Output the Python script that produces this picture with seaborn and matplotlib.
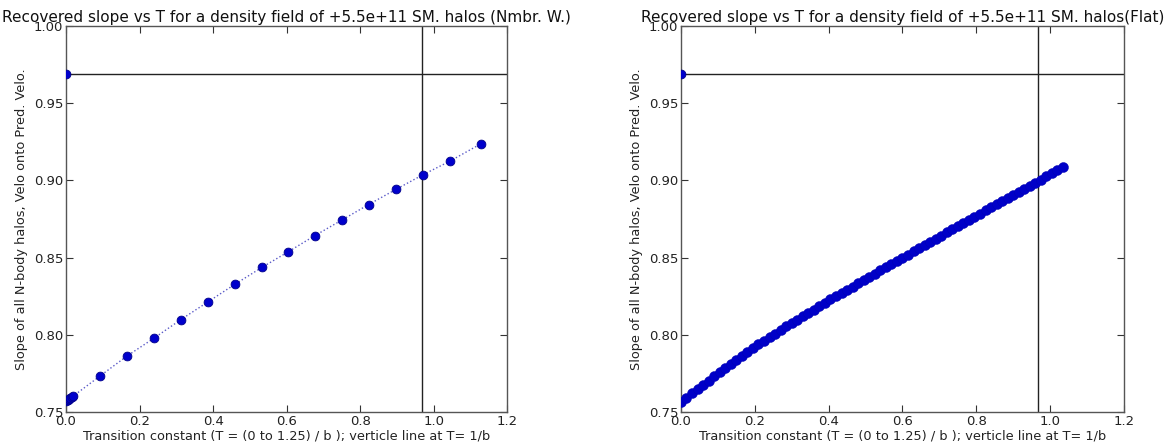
import numpy as np
import pandas as pd
import seaborn as sns
import matplotlib
matplotlib.use("Agg")
import matplotlib.pyplot as plt

# Dados
titulo_esq = "Recovered slope vs T for a density field of +5.5e+11 SM. halos (Nmbr. W.)"
titulo_dir = "Recovered slope vs T for a density field of +5.5e+11 SM. halos(Flat)"
rotulo_x = "Transition constant (T = (0 to 1.25) / b ); verticle line at T= 1/b"
rotulo_y = "Slope of all N-body halos, Velo onto Pred. Velo."

# painel esquerdo (Nmbr. W.)
t_nw = [0.0, 0.004, 0.008, 0.012, 0.016, 0.020, 0.0935, 0.166, 0.2397, 0.312,
        0.387, 0.459, 0.533, 0.605, 0.677, 0.752, 0.823, 0.898, 0.970, 1.044, 1.128]
slope_nw = [0.7570, 0.7578, 0.7585, 0.7592, 0.7598, 0.7604, 0.7735, 0.7863, 0.7979, 0.8098,
            0.8215, 0.8327, 0.8437, 0.8539, 0.8643, 0.8746, 0.8844, 0.8943, 0.9036, 0.9125, 0.9237]

# painel direito (Flat)
t_flat = [0.000, 0.015, 0.030, 0.045, 0.060, 0.075, 0.090, 0.105, 0.120, 0.135,
          0.150, 0.165, 0.180, 0.195, 0.210, 0.225, 0.240, 0.255, 0.270, 0.285,
          0.300, 0.315, 0.330, 0.345, 0.360, 0.375, 0.390, 0.405, 0.420, 0.435,
          0.450, 0.465, 0.480, 0.495, 0.510, 0.525, 0.540, 0.555, 0.570, 0.585,
          0.600, 0.615, 0.630, 0.645, 0.660, 0.675, 0.690, 0.705, 0.720, 0.735,
          0.750, 0.765, 0.780, 0.795, 0.810, 0.825, 0.840, 0.855, 0.870, 0.885,
          0.900, 0.915, 0.930, 0.945, 0.960, 0.975, 0.990, 1.005, 1.020, 1.035]
slope_flat = [0.7565, 0.7592, 0.7620, 0.7647, 0.7675, 0.7702, 0.7730, 0.7757, 0.7783, 0.7809,
              0.7835, 0.7861, 0.7887, 0.7913, 0.7938, 0.7961, 0.7984, 0.8008, 0.8031, 0.8054,
              0.8077, 0.8099, 0.8121, 0.8142, 0.8164, 0.8186, 0.8208, 0.8229, 0.8250, 0.8271,
              0.8292, 0.8313, 0.8334, 0.8355, 0.8376, 0.8397, 0.8417, 0.8438, 0.8459, 0.8479,
              0.8500, 0.8520, 0.8541, 0.8561, 0.8582, 0.8602, 0.8622, 0.8643, 0.8663, 0.8684,
              0.8704, 0.8724, 0.8745, 0.8765, 0.8785, 0.8806, 0.8826, 0.8846, 0.8866, 0.8886,
              0.8906, 0.8926, 0.8946, 0.8966, 0.8986, 0.9006, 0.9027, 0.9046, 0.9066, 0.9085]

# linhas de referencia e ponto de T = 0
linha_h = 0.969
linha_v = 0.967
ponto_t0 = ([0.0], [0.969])

sns.set_style("ticks")
plt.rcParams["font.family"] = ["DejaVu Sans"]

fig = plt.figure(figsize=(11.67, 4.43), dpi=100)
ax1 = fig.add_axes([0.0566, 0.070, 0.378, 0.871])
ax2 = fig.add_axes([0.5835, 0.070, 0.3796, 0.871])

df_nw = pd.DataFrame({"T": t_nw, "slope": slope_nw})
df_flat = pd.DataFrame({"T": t_flat, "slope": slope_flat})

sns.lineplot(data=df_nw, x="T", y="slope", ax=ax1, color="#5a5ac8", linestyle=":",
             linewidth=1.0, sort=False)
sns.scatterplot(data=df_nw, x="T", y="slope", ax=ax1, color="#0000cc",
                edgecolor="#00008a", linewidth=0.6, s=40, zorder=3)

# pontos densos: a borda na mesma cor deixa a faixa continua
sns.scatterplot(data=df_flat, x="T", y="slope", ax=ax2, color="#0000c8",
                edgecolor="#0000b0", linewidth=0.3, s=52, zorder=3)

for ax, titulo in [(ax1, titulo_esq), (ax2, titulo_dir)]:
    ax.axhline(linha_h, color="#222222", linewidth=1.0)
    ax.axvline(linha_v, color="#222222", linewidth=1.0)
    ax.scatter(ponto_t0[0], ponto_t0[1], color="#0000cc", edgecolor="#00008a",
               linewidth=0.6, s=40, zorder=3)
    ax.set_xlim(0, 1.2)
    ax.set_ylim(0.75, 1.0)
    ax.set_xticks([0.0, 0.2, 0.4, 0.6, 0.8, 1.0, 1.2])
    ax.set_yticks([0.75, 0.80, 0.85, 0.90, 0.95, 1.00])
    ax.set_xticklabels(["0.0", "0.2", "0.4", "0.6", "0.8", "1.0", "1.2"])
    ax.set_yticklabels(["0.75", "0.80", "0.85", "0.90", "0.95", "1.00"])
    ax.tick_params(direction="in", top=True, right=True, length=5, width=0.8,
                   labelsize=9.5, colors="#333333", labelcolor="#222222", pad=2)
    for sp in ax.spines.values():
        sp.set_visible(True)
        sp.set_color("#555555")
        sp.set_linewidth(1.0)
    ax.set_title(titulo, fontsize=11, pad=3, color="#111111")
    ax.set_xlabel(rotulo_x, fontsize=9.3, labelpad=1, color="#222222")
    ax.set_ylabel(rotulo_y, fontsize=9.3, labelpad=4, color="#222222")

fig.savefig("out.png", dpi=100)
